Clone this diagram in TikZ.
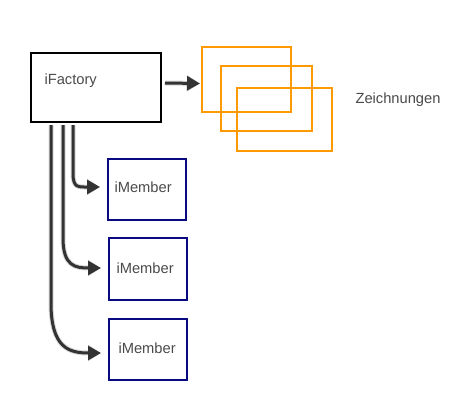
\documentclass[tikz,border=0pt]{standalone}
\usepackage{fontspec}
\setmainfont{Liberation Sans}
\usetikzlibrary{arrows.meta,calc}
\definecolor{txt}{HTML}{4A4A4A}
\definecolor{orng}{HTML}{FF9900}
\definecolor{navy}{HTML}{0A0A80}
\definecolor{arr}{HTML}{333333}
\tikzset{
  factory/.style={draw=black,line width=2pt,minimum width=130pt,minimum height=69pt,inner sep=0pt},
  member/.style={draw=navy,line width=2pt,minimum width=78pt,minimum height=61pt,inner sep=0pt},
  drawing/.style={draw=orng,line width=2pt,minimum width=#1,inner sep=0pt},
  lbl/.style={text=txt,font=\fontsize{14.7}{16}\selectfont},
  conn/.style={draw=arr,line width=3pt,-{Triangle[length=13pt,width=14pt]}},
  shad/.style={draw=black!30,line width=5pt,opacity=0.5,-{Triangle[length=13pt,width=16pt]}}
}
\begin{document}
\begin{tikzpicture}[x=1pt,y=-1pt]
\useasboundingbox (0,0) rectangle (460,404);
% nodes
\node[factory] (f) at (96,87.5) {};
\node[lbl,anchor=west] (ft) at (41,81) {iFactory};
\node[drawing=89pt,minimum height=64pt] (d1) at (246.5,79.5) {};
\node[drawing=91pt,minimum height=65pt] (d2) at (266.5,98.2) {};
\node[drawing=95pt,minimum height=63pt] (d3) at (284.5,119.2) {};
\node[lbl,anchor=west] (z) at (352,100) {Zeichnungen};
\node[member] (m1) at (147,189.5) {};
\node[member,minimum height=62pt] (m2) at (148,269) {};
\node[member] (m3) at (148,349.5) {};
\node[lbl,anchor=west] (t1) at (111,187) {iMember};
\node[lbl,anchor=west] (t2) at (113,268) {iMember};
\node[lbl,anchor=west] (t3) at (115,348) {iMember};
% connector coordinates
\coordinate (s1) at ($(f.south west)+(21,2)$);
\coordinate (s2) at ($(f.south west)+(33,2)$);
\coordinate (s3) at ($(f.south west)+(43,2)$);
\coordinate (e1) at ($(m3.west)+(-7,3.5)$);
\coordinate (e2) at ($(m2.west)+(-7,-1)$);
\coordinate (e3) at ($(m1.west)+(-7,-2.5)$);
% shadows
\begin{scope}[shift={(3,3)}]
\draw[shad] ($(f.east)+(3,-4.5)$) -- ($(d1.west)+(-1,4)$);
\draw[shad] (s3) -- ++(0,48) .. controls +(0,15) and +(-22,0) .. (e3);
\draw[shad] (s2) -- ++(0,113) .. controls +(0,28) and +(-26,0) .. (e2);
\draw[shad] (s1) -- ++(0,178) .. controls +(0,45) and +(-32,0) .. (e1);
\end{scope}
% connectors
\draw[conn] ($(f.east)+(3,-4.5)$) -- ($(d1.west)+(-1,4)$);
\draw[conn] (s3) -- ++(0,48) .. controls +(0,15) and +(-22,0) .. (e3);
\draw[conn] (s2) -- ++(0,113) .. controls +(0,28) and +(-26,0) .. (e2);
\draw[conn] (s1) -- ++(0,178) .. controls +(0,45) and +(-32,0) .. (e1);
\end{tikzpicture}
\end{document}
